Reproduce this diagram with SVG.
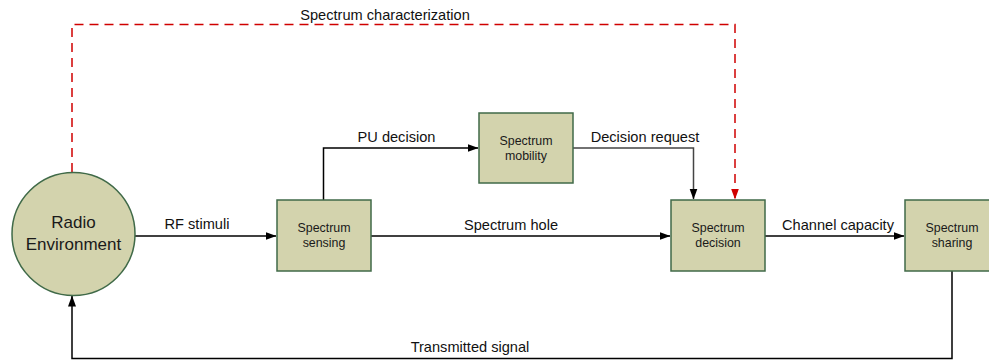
<svg xmlns="http://www.w3.org/2000/svg" width="989" height="360" viewBox="0 0 989 360">
<style>
.node{fill:#d3d3ad;stroke:#406a48;stroke-width:1.5}
.nt{font-family:"Liberation Sans",Arial,sans-serif;font-size:12.4px;fill:#1a1a1a;text-anchor:middle}
.big{font-family:"Liberation Sans",Arial,sans-serif;font-size:17px;fill:#1a1a1a;text-anchor:middle}
.lbl{font-family:"Liberation Sans",Arial,sans-serif;font-size:14.6px;fill:#111;text-anchor:middle}
.ln{fill:none;stroke:#000;stroke-width:1.5}
.red{fill:none;stroke:#d00000;stroke-width:1.5;stroke-dasharray:9,6}
</style>
<defs>
<marker id="ah" markerWidth="11" markerHeight="9" refX="10.5" refY="4.5" orient="auto" markerUnits="userSpaceOnUse">
<path d="M0,0.5 L11,4.5 L0,8.5 Z" fill="#000"/>
</marker>
<marker id="ahr" markerWidth="11" markerHeight="9" refX="10.5" refY="4.5" orient="auto" markerUnits="userSpaceOnUse">
<path d="M0,0.5 L11,4.5 L0,8.5 Z" fill="#d00000"/>
</marker>
</defs>
<g id="connectors">
<path class="red" d="M72,172 V24.5 H735 V199" marker-end="url(#ahr)"/>
<text class="lbl" x="385" y="20">Spectrum characterization</text>
<path class="ln" d="M135,236 H276" marker-end="url(#ah)"/>
<text class="lbl" x="197" y="229">RF stimuli</text>
<path class="ln" d="M323.5,200 V148 H478" marker-end="url(#ah)"/>
<text class="lbl" x="396.5" y="142">PU decision</text>
<path class="ln" d="M371,236 H670" marker-end="url(#ah)"/>
<text class="lbl" x="511" y="230">Spectrum hole</text>
<path class="ln" style="stroke:#444" d="M573,148 H693.5 V199" marker-end="url(#ah)"/>
<text class="lbl" x="645" y="142">Decision request</text>
<path class="ln" d="M765,236 H904" marker-end="url(#ah)"/>
<text class="lbl" x="838" y="230">Channel capacity</text>
<path class="ln" d="M952,271 V358.5 H72 V296" marker-end="url(#ah)"/>
<text class="lbl" x="470" y="352">Transmitted signal</text>
</g>
<g id="radio-environment">
<circle class="node" cx="73.5" cy="234" r="61.5"/>
<text class="big" x="73.5" y="228">Radio</text>
<text class="big" x="73.5" y="249.5">Environment</text>
</g>
<g id="spectrum-sensing">
<rect class="node" x="277" y="200" width="94" height="71"/>
<text class="nt" x="324" y="232">Spectrum</text>
<text class="nt" x="324" y="247">sensing</text>
</g>
<g id="spectrum-mobility">
<rect class="node" x="479" y="113" width="94" height="70"/>
<text class="nt" x="526" y="145">Spectrum</text>
<text class="nt" x="526" y="160">mobility</text>
</g>
<g id="spectrum-decision">
<rect class="node" x="671" y="200" width="94" height="71"/>
<text class="nt" x="718" y="232">Spectrum</text>
<text class="nt" x="718" y="247">decision</text>
</g>
<g id="spectrum-sharing">
<rect class="node" x="905" y="200" width="94" height="71"/>
<text class="nt" x="952" y="232">Spectrum</text>
<text class="nt" x="952" y="247">sharing</text>
</g>
</svg>
